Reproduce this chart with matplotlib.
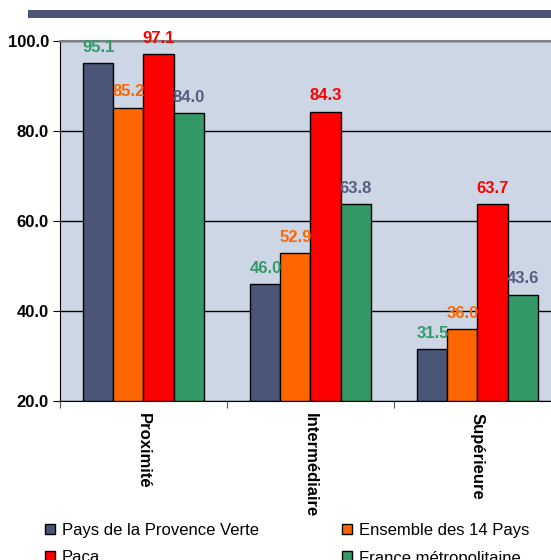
import numpy as np
import matplotlib.pyplot as plt
from matplotlib.patches import Rectangle

plt.rcParams['font.family'] = ['Liberation Sans', 'DejaVu Sans']

# Niveaux d'équipement et séries comparées
niveaux = ['Proximité', 'Intermédiaire', 'Supérieure']
series = ['Pays de la Provence Verte', 'Ensemble des 14 Pays', 'Paca', 'France métropolitaine']
provence_verte = [95.1, 46.0, 31.5]
quatorze_pays = [85.2, 52.9, 36.0]
paca = [97.1, 84.3, 63.7]
france = [84.0, 63.8, 43.6]
y_ticks = [20, 40, 60, 80, 100]

bar_colors = ['#4A5577', '#FF6600', '#FF0000', '#339966']
label_colors = ['#339966', '#FF6600', '#FF0000', '#555F80']
values = [provence_verte, quatorze_pays, paca, france]

fig = plt.figure(figsize=(5.51, 5.60), dpi=100)
W, H = 551, 560

# bandeau en haut
fig.patches.append(Rectangle((28 / W, 1 - 18 / H), 1, 8 / H, transform=fig.transFigure,
                             facecolor='#4A5577', edgecolor='none'))

ax = fig.add_axes([60 / W, 1 - 401 / H, 501 / W, 360 / H])
ax.set_facecolor('#CDD6E5')

x = np.arange(len(niveaux))
w = 0.18
for i, (vals, c, lc) in enumerate(zip(values, bar_colors, label_colors)):
    pos = x + (i - 1.5) * w
    ax.bar(pos, np.array(vals) - 20, bottom=20, width=w, color=c, edgecolor='black',
           linewidth=1, zorder=3, label=series[i])
    for p, v in zip(pos, vals):
        ax.annotate(f'{v:.1f}', (p, v), xytext=(0, 6), textcoords='offset points',
                    ha='center', va='bottom', color=lc, fontsize=12, fontweight='bold', zorder=4)

ax.set_ylim(20, 100)
ax.set_xlim(-0.5, 2.5)
ax.set_yticks(y_ticks)
ax.set_yticklabels([f'{t:.1f}' for t in y_ticks], fontsize=12, fontweight='bold')
ax.yaxis.grid(True, color='black', linewidth=1, zorder=1)
ax.set_axisbelow(True)

ax.set_xticks([-0.5, 0.5, 1.5, 2.5])
ax.set_xticklabels([])
ax.tick_params(axis='x', length=5, color='#555555', direction='out')
ax.tick_params(axis='y', length=5, direction='out', pad=3)
for xi, name in zip(x, niveaux):
    ax.text(xi, 17.3, name, rotation=-90, ha='center', va='top', fontsize=12,
            fontweight='bold')

ax.spines['top'].set_color('#808080')
ax.spines['top'].set_linewidth(1.5)
ax.spines['right'].set_visible(False)
ax.spines['left'].set_color('black')
ax.spines['bottom'].set_color('black')

handles, labels = ax.get_legend_handles_labels()
order = [0, 2, 1, 3]
leg = fig.legend([handles[k] for k in order], [labels[k] for k in order],
                 loc='upper left', bbox_to_anchor=(30 / W, 1 - 508 / H), ncol=2,
                 frameon=False, fontsize=12, handlelength=0.6, handleheight=0.6,
                 handletextpad=0.4, columnspacing=5.0, labelspacing=0.75)
for h in leg.legend_handles:
    h.set_linewidth(1)

fig.savefig('out.png', dpi=100)
